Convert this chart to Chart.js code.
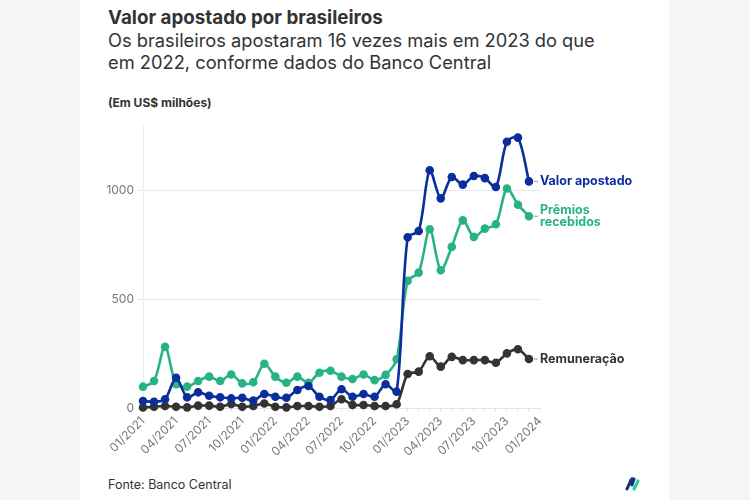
<!DOCTYPE html>
<html>
<head>
<meta charset="utf-8">
<script src="https://cdn.jsdelivr.net/npm/chart.js@4.4.1/dist/chart.umd.min.js"></script>
<style>
  html, body { margin: 0; padding: 0; }
  body {
    width: 750px; height: 500px; position: relative; overflow: hidden;
    background: #f7f4f4; font-family: Inter, "Noto Sans", sans-serif; color: #333;
  }
  #panel { position: absolute; left: 80px; top: 0; width: 589px; height: 500px; background: #fff; }
  #title { position: absolute; left: 28px; top: 6px; font-size: 18.8px; font-weight: 700; color: #333; }
  #subtitle { position: absolute; left: 28px; top: 30px; width: 505px; font-size: 18.3px; line-height: 21.6px; color: #333; }
  #unit { position: absolute; left: 28px; top: 95px; font-size: 12px; font-weight: 700; color: #333; }
  #source { position: absolute; left: 28px; top: 477px; font-size: 12.5px; color: #333; }
  #logo { position: absolute; left: 545px; top: 476px; }
  #wrap { position: absolute; left: 0; top: 110px; width: 589px; height: 360px; }
</style>
</head>
<body>
<div id="panel">
  <div id="title">Valor apostado por brasileiros</div>
  <div id="subtitle">Os brasileiros apostaram 16 vezes mais em 2023 do que em 2022, conforme dados do Banco Central</div>
  <div id="unit">(Em US$ milhões)</div>
  <div id="wrap"><canvas id="chart"></canvas></div>
  <div id="source">Fonte: Banco Central</div>
  <svg id="logo" width="20" height="16" viewBox="0 0 20 16">
    <path d="M2 13 L6 4 Q7 2 9 3 L7 9" stroke="#14307e" stroke-width="3" fill="none" stroke-linecap="round"/>
    <path d="M9 13 L13 5" stroke="#2fcf98" stroke-width="3.2" fill="none" stroke-linecap="round"/>
  </svg>
</div>
<script>
const months = [];
for (let y = 2021; y <= 2023; y++) {
  for (let m = 1; m <= 12; m++) months.push(String(m).padStart(2, "0") + "/" + y);
}
months.push("01/2024");

const yTicks = [0, 500, 1000];

const valorApostado = [32, 29, 40, 139, 49, 72, 56, 49, 44, 47, 34, 64,
  52, 47, 83, 101, 52, 37, 86, 52, 64, 52, 109, 75,
  784, 813, 1092, 963, 1061, 1026, 1066, 1056, 1015, 1223, 1242, 1041];
const premiosRecebidos = [98, 124, 281, 109, 98, 124, 144, 124, 154, 113, 118, 203,
  144, 116, 144, 116, 162, 171, 144, 133, 154, 128, 152, 224,
  584, 622, 821, 633, 740, 862, 786, 824, 844, 1008, 934, 881];
const remuneracao = [2, 6, 9, 6, 3, 11, 11, 6, 18, 6, 9, 21,
  6, 3, 9, 9, 6, 9, 40, 14, 14, 9, 9, 17,
  156, 167, 238, 190, 235, 220, 220, 220, 208, 251, 270, 225];

const seriesLabels = [["Valor apostado"], ["Prêmios", "recebidos"], ["Remuneração"]];
const colors = ["#0b2d9e", "#27b383", "#333333"];

const endLabels = {
  id: "endLabels",
  afterDatasetsDraw(chart) {
    const ctx = chart.ctx;
    ctx.save();
    chart.data.datasets.forEach((ds, i) => {
      const meta = chart.getDatasetMeta(i);
      const pt = meta.data[meta.data.length - 1];
      const lines = seriesLabels[i];
      ctx.strokeStyle = "#999";
      ctx.lineWidth = 1;
      ctx.beginPath();
      ctx.moveTo(pt.x + 5, pt.y);
      ctx.lineTo(pt.x + 9, pt.y);
      ctx.stroke();
      ctx.fillStyle = colors[i];
      ctx.font = "700 12.5px Inter, sans-serif";
      ctx.textBaseline = "middle";
      ctx.textAlign = "left";
      const start = pt.y - (lines.length - 1) * 6;
      lines.forEach((t, k) => ctx.fillText(t, pt.x + 11, start + k * 12));
    });
    ctx.restore();
  }
};

function makeDataset(label, values, color) {
  return {
    label: label,
    data: values,
    borderColor: color,
    backgroundColor: color,
    borderWidth: 2.6,
    pointRadius: 3,
    pointHoverRadius: 3,
    tension: 0.3,
    clip: false,
  };
}

new Chart(document.getElementById("chart"), {
  type: "line",
  data: {
    labels: months,
    datasets: [
      makeDataset("Valor apostado", valorApostado, colors[0]),
      makeDataset("Prêmios recebidos", premiosRecebidos, colors[1]),
      makeDataset("Remuneração", remuneracao, colors[2]),
    ],
  },
  options: {
    responsive: true,
    maintainAspectRatio: false,
    animation: false,
    layout: { padding: { top: 15, right: 129, left: 0, bottom: 0 } },
    plugins: {
      legend: { display: false },
      tooltip: { enabled: false },
    },
    scales: {
      x: {
        offset: false,
        afterFit: (s) => { s.height = 62; },
        border: { display: true, color: "#e6e6e6" },
        grid: { drawOnChartArea: false, drawTicks: true, tickLength: 4, color: "#e6e6e6" },
        ticks: {
          autoSkip: false,
          maxRotation: 45,
          minRotation: 45,
          padding: 2,
          color: "#777",
          font: { family: "Inter", size: 12 },
          callback: function (v, i) { return i % 3 === 0 ? this.getLabelForValue(v) : ""; },
        },
      },
      y: {
        min: 0,
        max: 1300,
        afterFit: (s) => { s.width = 63; },
        afterBuildTicks: (s) => { s.ticks = yTicks.map((v) => ({ value: v })); },
        border: { display: true, color: "#eeeeee" },
        grid: { color: "#e8e8e8", drawTicks: true, tickLength: 5 },
        ticks: {
          padding: 4,
          color: "#777",
          font: { family: "Inter", size: 12 },
          callback: (v) => String(v),
        },
      },
    },
  },
  plugins: [endLabels],
});
</script>
</body>
</html>
